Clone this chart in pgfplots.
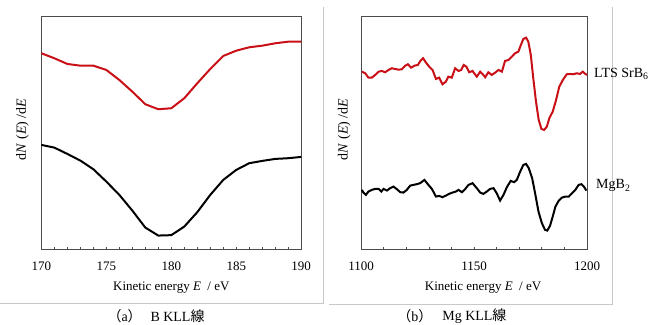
\documentclass[border=0pt,12pt]{standalone}
\usepackage{fontspec}
\setmainfont{Liberation Serif}
\newfontfamily\cjk{Noto Sans CJK JP}
\usepackage{pgfplots}
\pgfplotsset{compat=1.18}
\definecolor{cred}{RGB}{200,16,22}
\definecolor{sepgray}{RGB}{200,200,200}
\definecolor{framegray}{RGB}{75,75,75}
\newcommand\fA{\fontsize{13}{15}\selectfont}
\newcommand\fB{\fontsize{14}{16}\selectfont}
\pgfplotsset{
  myaxis/.style={
    scale only axis,
    anchor=south west,
    height=233pt,
    ymin=17, ymax=250, y dir=reverse,
    ytick=\empty,
    axis line style={framegray, line width=1pt},
    tick align=inside,
    xtick pos=bottom,
    major tick length=3pt, minor tick length=3pt,
    every tick/.style={framegray, line width=0.8pt},
    /pgf/number format/assume math mode=true,
    /pgf/number format/1000 sep={},
    xticklabel style={yshift=-8pt, font=\fA},
    xlabel style={at={(axis description cs:0.5,0)}, anchor=center, yshift=-38pt, font=\fA},
    ylabel style={at={(axis description cs:0,0.5)}, anchor=center, rotate=0, font=\fB},
    xlabel={Kinetic energy \textit{E}\ \ / eV},
    ylabel={d\textit{N} (\textit{E}) /d\textit{E}},
    clip=false,
  }
}
\begin{document}
\begin{tikzpicture}[x=1pt,y=1pt]
\path (0,0) rectangle (659,325);
% separators
\draw[sepgray, line width=0.8pt] (0,21) -- (322.7,21) -- (322.7,318);
\draw[sepgray, line width=0.8pt] (329,20) -- (612,20) -- (612,318);

\begin{axis}[myaxis, at={(41pt,75pt)}, width=260pt,
  xmin=170, xmax=190,
  xtick={170,175,180,185,190},
  minor xtick={171,172,173,174,176,177,178,179,181,182,183,184,186,187,188,189},
  ylabel style={xshift=4pt, yshift=19pt}]
\addplot[cred, line width=2pt] coordinates {
(170,53.3) (171,58.3) (172,64) (173,65.7) (174,65.7) (175,70) (176,80) (177,91.7)
(178,104.3) (179,109.3) (180,108.3) (181,98.3) (182,83.3) (183,69) (184,56)
(185,50.7) (186,47.3) (187,45.7) (188,43.3) (189,41.7) (190,41.7)};
\addplot[black, line width=2pt] coordinates {
(170,145) (171,147.7) (172,154) (173,160.7) (174,169.3) (175,181.7) (176,195)
(177,210.7) (178,227.7) (179,235.7) (180,235.3) (181,226.7) (182,212.3) (183,195)
(184,180) (185,170) (186,163.3) (187,161) (188,159) (189,158.3) (190,157)};
\end{axis}

\begin{axis}[myaxis, at={(361pt,75pt)}, width=226pt,
  xmin=1100, xmax=1200,
  xtick={1100,1150,1200},
  minor xtick={1110,1120,1130,1140,1160,1170,1180,1190},
  xlabel style={xshift=9pt},
  ylabel style={xshift=4pt, yshift=17pt}]
\addplot[cred, line width=2pt] coordinates {
(1100.3,71.7) (1101.8,73.3) (1103.2,77.7) (1104.7,77.7) (1106.2,75) (1107.7,71.7)
(1109.2,71) (1110.6,72.3) (1112.1,70) (1113.6,68.3) (1115.0,69) (1116.5,69.7)
(1118.0,69.3) (1119.5,65.7) (1120.7,64.3) (1122.1,67.7) (1123.6,65.7) (1125.1,65)
(1126.2,61) (1127.4,58.3) (1128.6,62.3) (1130.1,66.7) (1131.6,70) (1133.1,79)
(1134.5,77.7) (1136.0,84.3) (1137.5,81.7) (1138.6,76.7) (1140.1,77.7) (1141.6,68.3)
(1143.1,71) (1144.3,70) (1145.4,65) (1146.6,66.7) (1147.8,72.3) (1149.3,71)
(1149.7,72.3) (1151.2,76.7) (1152.7,71.7) (1154.1,75) (1154.9,77.3) (1156.3,72.3)
(1157.8,75) (1159.3,72.7) (1160.8,70) (1162.3,71.7) (1163.7,61) (1165.2,60)
(1166.7,56.7) (1168.1,53.3) (1169.6,51.7) (1170.7,45) (1171.8,39) (1173.0,37.7)
(1174.0,41.7) (1175.1,55) (1176.2,78.3) (1177.4,101.7) (1178.6,120) (1179.8,129)
(1181.0,130) (1182.2,126.7) (1183.3,118.3) (1184.8,111.7) (1186.3,100) (1187.7,86.7)
(1189.3,80) (1191.0,74.3) (1192.5,74) (1194.0,74.3) (1195.4,73.3) (1196.9,74)
(1198.1,71.7) (1199.1,73.7) (1200,75)};
\addplot[black, line width=2pt] coordinates {
(1100.3,190) (1101.0,192.7) (1102.1,195) (1103.2,191.7) (1104.7,190) (1106.2,189)
(1107.7,189) (1108.9,191.7) (1109.9,189) (1111.4,190.7) (1112.8,188.3) (1114.3,186.7)
(1115.8,189.3) (1117.3,192.3) (1118.7,192.7) (1120.2,190) (1121.7,185.7) (1123.1,185)
(1124.6,184.3) (1126.1,183.3) (1128.0,180) (1129.5,184.3) (1131.3,189) (1133.1,196.7)
(1134.5,196) (1136.0,197.3) (1137.5,195.7) (1138.9,194) (1140.4,192.7) (1141.9,191.7)
(1143.1,190) (1144.6,192.3) (1146.0,189.3) (1147.5,185) (1149.3,183.3) (1151.2,188.3)
(1152.7,192.7) (1154.1,194) (1155.6,191.7) (1157.1,189) (1158.6,188.3) (1160.0,193.3)
(1161.5,200.7) (1163.0,195) (1164.5,187.3) (1166.2,181) (1167.7,182.3) (1168.9,180)
(1170.4,171.7) (1171.8,165) (1173.0,164) (1174.2,168.3) (1175.7,178.3) (1177.0,193.3)
(1178.5,211.7) (1180.0,223.3) (1181.4,230) (1182.4,230.7) (1183.6,226) (1184.8,216.7)
(1186.0,206.7) (1187.5,200.7) (1188.9,197.7) (1190.4,196.7) (1191.9,196.7) (1193.4,193.3)
(1194.8,190) (1196.3,185) (1197.5,184.3) (1198.6,186.7) (1199.7,190.7)};
\end{axis}

% curve labels
\node[anchor=west, inner sep=0pt, font=\fB] at (594,251) {LTS SrB\textsubscript{6}};
\node[anchor=west, inner sep=0pt, font=\fB] at (596,139) {MgB\textsubscript{2}};
% captions
\node[anchor=west, inner sep=0pt, font=\fB] at (107,9) {{\cjk （}a{\cjk ）}};
\node[anchor=west, inner sep=0pt, font=\fB] at (150,9) {B KLL{\cjk 線}};
\node[anchor=west, inner sep=0pt, font=\fB] at (397,9) {{\cjk （}b{\cjk ）}};
\node[anchor=west, inner sep=0pt, font=\fB] at (442,9) {Mg KLL{\cjk 線}};
\end{tikzpicture}
\end{document}
